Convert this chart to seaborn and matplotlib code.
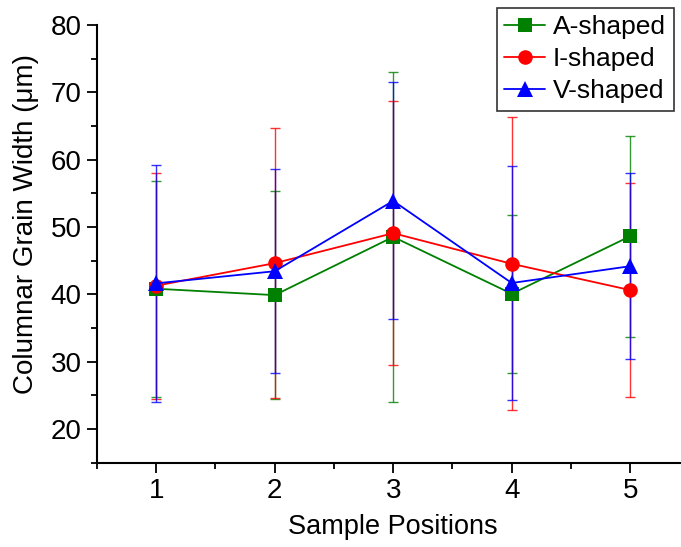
import numpy as np
import pandas as pd
import matplotlib
matplotlib.use("Agg")
import matplotlib.pyplot as plt
import seaborn as sns
from matplotlib.ticker import MultipleLocator

positions = [1, 2, 3, 4, 5]
a_shaped = [40.85, 39.9, 48.55, 40.1, 48.65]
a_err = [16.05, 15.4, 24.55, 11.7, 14.95]
i_shaped = [41.3, 44.65, 49.1, 44.55, 40.65]
i_err = [16.8, 20.1, 19.6, 21.75, 15.95]
v_shaped = [41.65, 43.45, 53.9, 41.7, 44.2]
v_err = [17.6, 15.15, 17.6, 17.4, 13.8]

series_names = ["A-shaped", "I-shaped", "V-shaped"]
series_vals = [a_shaped, i_shaped, v_shaped]
series_errs = [a_err, i_err, v_err]
colors = {"A-shaped": "#008000", "I-shaped": "#FF0000", "V-shaped": "#0000FF"}
markers = {"A-shaped": "s", "I-shaped": "o", "V-shaped": "^"}
msizes = {"A-shaped": 9.5, "I-shaped": 10.5, "V-shaped": 11}

df = pd.concat(
    [pd.DataFrame({"pos": positions, "width": v, "err": e, "shape": n})
     for n, v, e in zip(series_names, series_vals, series_errs)],
    ignore_index=True,
)

sns.set_theme(style="ticks")
plt.rcParams["font.family"] = ["Liberation Sans", "DejaVu Sans"]
plt.rcParams["text.color"] = "black"
plt.rcParams["axes.labelcolor"] = "black"

fig = plt.figure(figsize=(6.81, 5.47), dpi=100)
ax = fig.add_axes([0.1424, 0.154, 0.870, 0.800])

# error bars first, then lines and markers on top
for n in series_names:
    sub = df[df["shape"] == n]
    ax.errorbar(sub["pos"], sub["width"], yerr=sub["err"], fmt="none",
                ecolor=colors[n], elinewidth=1.0, capsize=3.6,
                capthick=1.0, alpha=0.8, zorder=2)

for n in series_names:
    sub = df[df["shape"] == n]
    sns.lineplot(data=sub, x="pos", y="width", ax=ax, color=colors[n],
                 marker=markers[n], markersize=msizes[n],
                 markeredgewidth=0, linewidth=1.3, label=n, zorder=3)

ax.set_xlim(0.5, 5.5)
ax.set_ylim(15, 80)
ax.xaxis.set_major_locator(MultipleLocator(1))
ax.xaxis.set_minor_locator(MultipleLocator(0.5))
ax.yaxis.set_major_locator(MultipleLocator(10))
ax.yaxis.set_minor_locator(MultipleLocator(5))
ax.set_yticks([20, 30, 40, 50, 60, 70, 80])

for s in ["top", "right"]:
    ax.spines[s].set_visible(False)
for s in ["left", "bottom"]:
    ax.spines[s].set_linewidth(1.5)
    ax.spines[s].set_color("black")

ax.tick_params(axis="both", which="major", direction="out", length=7,
               width=1.3, labelsize=20, colors="black", pad=4)
ax.tick_params(axis="both", which="minor", direction="out", length=4,
               width=1.3, colors="black")

ax.set_xlabel("Sample Positions", fontsize=19.5, labelpad=7, color="black")
ax.set_ylabel("Columnar Grain Width (μm)", fontsize=20, color="black")
ax.yaxis.set_label_coords(-0.098, 0.546)

leg = ax.legend(loc="upper right", fontsize=19, frameon=True,
                fancybox=False, edgecolor="black", borderpad=0.28,
                handlelength=1.55, handletextpad=0.3, labelspacing=0.3,
                borderaxespad=0)
for t in leg.get_texts():
    t.set_color("black")
leg.get_frame().set_linewidth(1.2)
leg.set_bbox_to_anchor((673.5 / 681, 1 - 8 / 547), transform=fig.transFigure)

fig.savefig("out.png", dpi=100)
